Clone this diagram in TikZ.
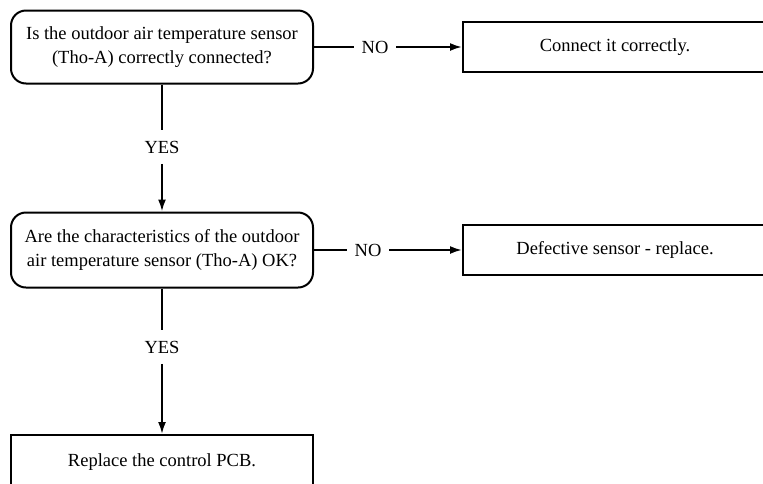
\documentclass[tikz,border=0pt]{standalone}
\usepackage{fontspec}
\setmainfont{Liberation Serif}
\usetikzlibrary{arrows.meta}
\begin{document}
\begin{tikzpicture}[x=1pt,y=-1pt,
  every node/.style={font=\fontsize{18.5}{24.5}\selectfont, inner sep=0pt},
  decision/.style={draw, line width=2pt, rounded corners=15pt, align=center, minimum width=302pt},
  actionbox/.style={draw, line width=2pt, align=center, minimum width=304pt, minimum height=50pt},
  lbl/.style={inner xsep=7.5pt, inner ysep=10.5pt},
  conn/.style={line width=2pt},
  arr/.style={line width=2pt, -{Latex[length=12pt,width=8pt]}}]
\clip (0,0) rectangle (763,483);
\fill[white] (0,0) rectangle (763,483);
% decisions
\node[decision, minimum height=73pt] (d1) at (162,47) {Is the outdoor air temperature sensor\\(Tho-A) correctly connected?};
\node[decision, minimum height=75pt] (d2) at (162,250) {Are the characteristics of the outdoor\\air temperature sensor (Tho-A) OK?};
% actions
\node[actionbox] (a1) at (615,47) {Connect it correctly.};
\node[actionbox] (a2) at (615,250) {Defective sensor - replace.};
\node[draw, line width=2pt, minimum width=302pt, minimum height=80pt, anchor=north] (a3) at (162,434) {};
\node (t3) at (162,462) {Replace the control PCB.};
% labels
\node[lbl] (no1) at (375,47) {NO};
\node[lbl] (no2) at (368,250) {NO};
\node[lbl] (yes1) at (162,147) {YES};
\node[lbl] (yes2) at (162,347) {YES};
% connectors
\draw[conn] (d1.east) -- (no1.west);
\draw[arr] (no1.east) -- (a1.west);
\draw[conn] (d2.east) -- (no2.west);
\draw[arr] (no2.east) -- (a2.west);
\draw[conn] (d1.south) -- (yes1.north);
\draw[arr] (yes1.south) -- (d2.north);
\draw[conn] (d2.south) -- (yes2.north);
\draw[arr] (yes2.south) -- (a3.north);
\end{tikzpicture}
\end{document}
